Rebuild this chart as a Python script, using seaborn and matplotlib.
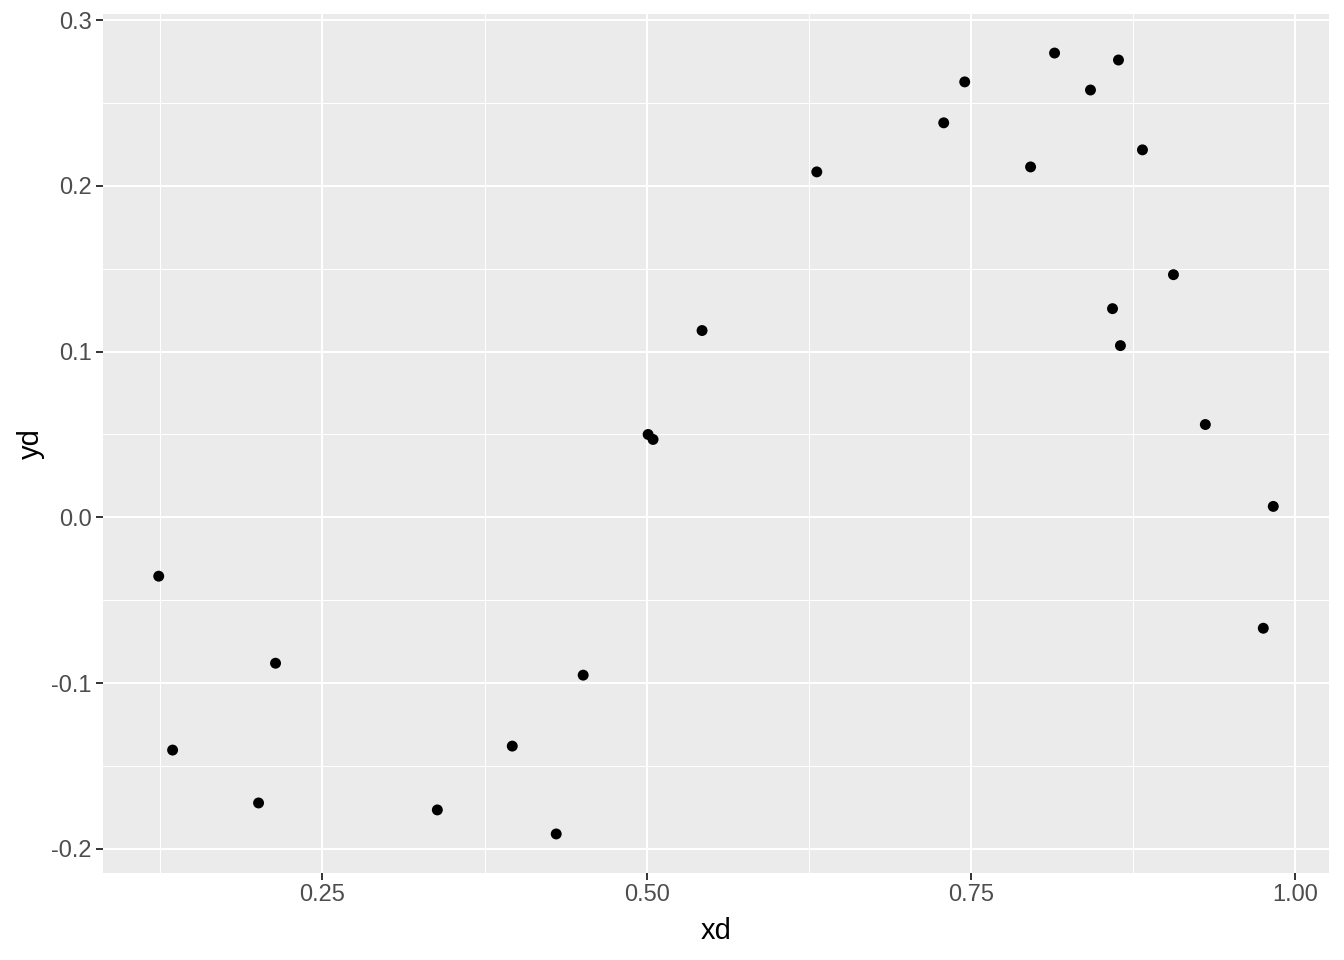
import pandas as pd
import matplotlib
matplotlib.use("Agg")
import matplotlib.pyplot as plt
import seaborn as sns
import numpy as np

# values
xd = [0.1237, 0.1344, 0.2007, 0.2138, 0.3386, 0.3964, 0.4303, 0.4511,
      0.5012, 0.5050, 0.5428, 0.6313, 0.7292, 0.7454, 0.7962, 0.8147,
      0.8424, 0.8640, 0.8594, 0.8655, 0.8825, 0.9064, 0.9310, 0.9834, 0.9757]
yd = [-0.0355, -0.1404, -0.1723, -0.0880, -0.1765, -0.1380, -0.1910, -0.0952,
      0.0500, 0.0470, 0.1127, 0.2084, 0.2380, 0.2627, 0.2114, 0.2801,
      0.2578, 0.2759, 0.1259, 0.1036, 0.2217, 0.1464, 0.0560, 0.0066, -0.0669]

x_ticks = [0.25, 0.50, 0.75, 1.00]
y_ticks = [-0.2, -0.1, 0.0, 0.1, 0.2, 0.3]

df = pd.DataFrame({"xd": xd, "yd": yd})

sns.set_style("darkgrid", {"axes.facecolor": "#EBEBEB", "grid.color": "white"})
plt.rcParams['font.family'] = ['Liberation Sans', 'DejaVu Sans']

fig = plt.figure(figsize=(13.44, 9.6), dpi=100)
ax = fig.add_axes([103 / 1344, 87 / 960, 1226 / 1344, 859 / 960])

sns.scatterplot(data=df, x="xd", y="yd", ax=ax, color="black", s=62,
                edgecolor="none", zorder=3)

# ggplot-like 5% expansion
def expand(v):
    lo, hi = min(v), max(v)
    pad = (hi - lo) * 0.05
    return lo - pad, hi + pad

ax.set_xlim(*expand(xd))
ax.set_ylim(*expand(yd))

ax.set_xticks(x_ticks)
ax.set_xticklabels([f"{t:.2f}" for t in x_ticks])
ax.set_yticks(y_ticks)
ax.set_yticklabels([f"{t:.1f}" for t in y_ticks])
ax.set_xticks([0.125, 0.375, 0.625, 0.875], minor=True)
ax.set_yticks([-0.15, -0.05, 0.05, 0.15, 0.25], minor=True)

ax.grid(which="major", color="white", linewidth=1.5)
ax.grid(which="minor", color="white", linewidth=0.75)
ax.set_axisbelow(True)
for sp in ax.spines.values():
    sp.set_visible(False)

ax.tick_params(axis="both", which="major", length=5, width=1.4, color="#333333",
               labelsize=17, labelcolor="#4D4D4D", pad=3, bottom=True, left=True)
ax.tick_params(axis="both", which="minor", length=0)

ax.set_xlabel("xd", fontsize=21, color="black", labelpad=8)
ax.set_ylabel("yd", fontsize=21, color="black", labelpad=5)

fig.savefig("out.png", dpi=100, facecolor="white")
